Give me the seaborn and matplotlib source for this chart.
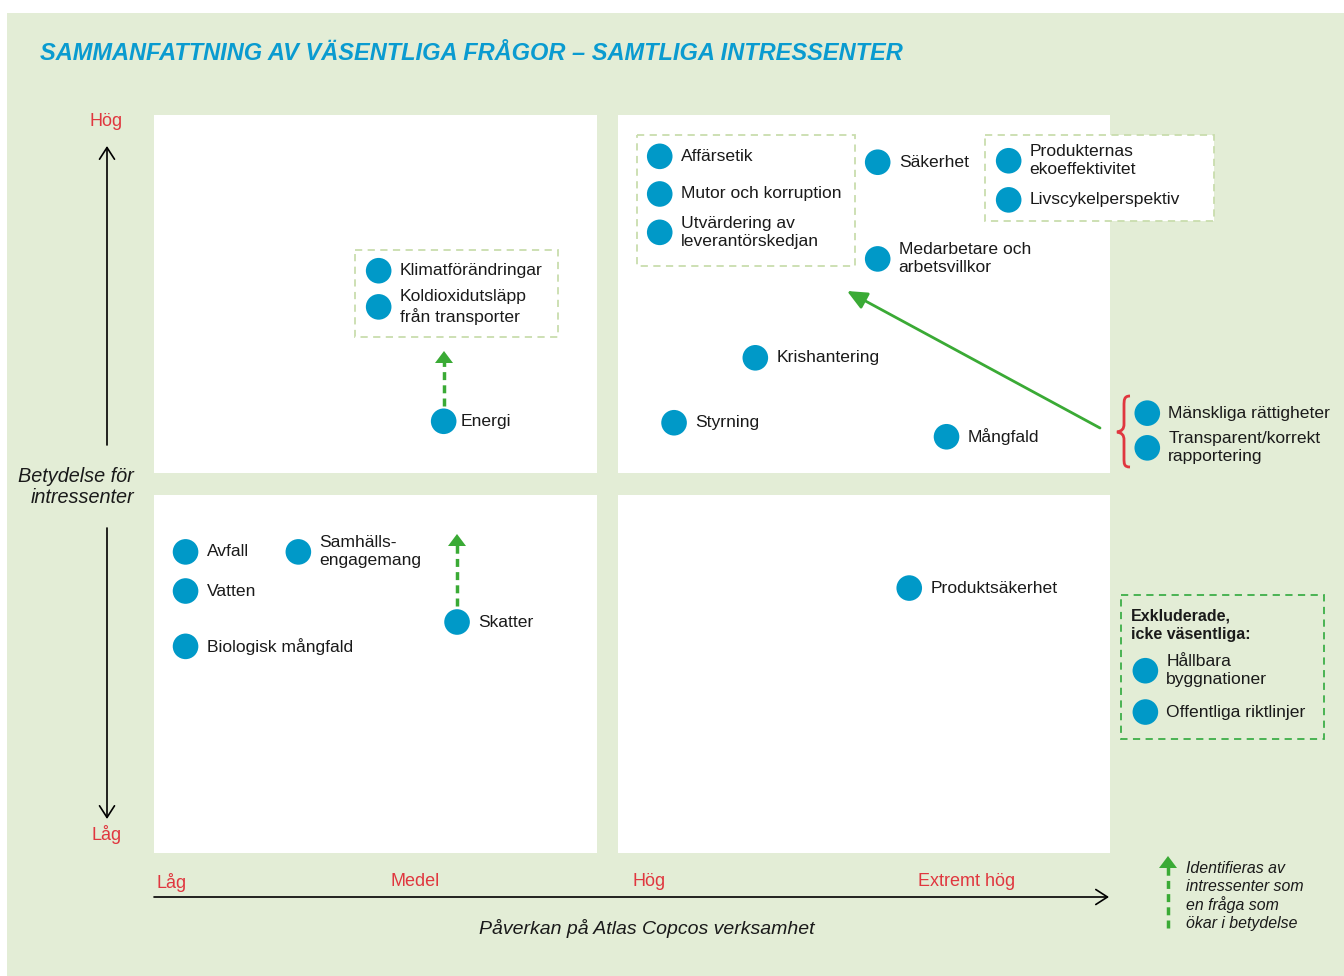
import matplotlib
matplotlib.use("Agg")
import matplotlib.pyplot as plt
import matplotlib.transforms as mtransforms
from matplotlib.patches import Rectangle, Polygon, PathPatch
from matplotlib.path import Path
import seaborn as sns
import pandas as pd

# ---------------- data ----------------
issues = [
    "Affärsetik", "Mutor och korruption", "Utvärdering av\nleverantörskedjan",
    "Säkerhet", "Produkternas\nekoeffektivitet", "Livscykelperspektiv",
    "Medarbetare och\narbetsvillkor", "Krishantering", "Styrning", "Mångfald",
    "Mänskliga rättigheter", "Transparent/korrekt\nrapportering",
    "Klimatförändringar", "Koldioxidutsläpp\nfrån transporter", "Energi",
    "Avfall", "Samhälls-\nengagemang", "Vatten", "Biologisk mångfald", "Skatter",
    "Produktsäkerhet", "Hållbara\nbyggnationer", "Offentliga riktlinjer",
]
impact = [52.9, 52.9, 52.9, 75.7, 89.4, 89.4, 75.7, 62.9, 54.4, 82.9,
          103.9, 103.9, 23.5, 23.5, 30.3, 3.3, 15.1, 3.3, 3.3, 31.7,
          79.0, 103.7, 103.7]
importance = [94.4, 89.3, 84.1, 93.6, 93.8, 88.5, 80.5, 67.1, 58.3, 56.4,
              59.6, 54.9, 78.9, 74.0, 58.5, 40.8, 40.8, 35.5, 28.0, 31.3,
              35.9, 24.7, 19.1]

x_levels = ["Låg", "Medel", "Hög", "Extremt hög"]
y_levels = ["Hög", "Låg"]

title = "SAMMANFATTNING AV VÄSENTLIGA FRÅGOR – SAMTLIGA INTRESSENTER"
xlabel = "Påverkan på Atlas Copcos verksamhet"
ylabel = "Betydelse för\nintressenter"
legend_text = "Identifieras av\nintressenter som\nen fråga som\nökar i betydelse"
excluded_title = "Exkluderade,\nicke väsentliga:"

df = pd.DataFrame({"issue": issues, "impact": impact, "importance": importance})

# ---------------- style ----------------
sns.set_theme(style="white")
plt.rcParams["font.family"] = ["Liberation Sans", "DejaVu Sans"]

BG = "#E3EDD6"
BLUE = "#0099C8"
TITLE_BLUE = "#0A9BD0"
RED = "#E0373F"
GREEN = "#3AAA35"
LIGHT_DASH = "#C9DDAE"
TXT = "#1a1a1a"

W, H = 1344, 976
fig = plt.figure(figsize=(W / 100, H / 100), dpi=100)
fig.patch.set_facecolor("white")

# pixel transform (origin top-left)
T = mtransforms.Affine2D().scale(1 / W, -1 / H).translate(0, 1) + fig.transFigure

# axes mapped so that score 0..100 spans the matrix area
x0, x1, y0, y1 = 154, 1110, 115, 853
ax = fig.add_axes([x0 / W, (H - y1) / H, (x1 - x0) / W, (y1 - y0) / H])
ax.set_xlim(0, 100)
ax.set_ylim(0, 100)
ax.axis("off")
ax.patch.set_visible(False)

def rect(x, y, w, h, **kw):
    r = Rectangle((x, y), w, h, transform=T, clip_on=False, **kw)
    ax.add_patch(r)
    return r

# background
rect(7, 13, W - 7, H - 13, facecolor=BG, edgecolor="none", zorder=-10)
# quadrant panels
for (px, py, pw, ph) in [(154, 115, 443, 358), (618, 115, 492, 358),
                         (154, 495, 443, 358), (618, 495, 492, 358)]:
    rect(px, py, pw, ph, facecolor="white", edgecolor="none", zorder=-9)

# dashed grouping boxes
rect(637, 135, 218, 131, facecolor="white", edgecolor=LIGHT_DASH, lw=1.3,
     linestyle=(0, (4, 3)), zorder=-8)
rect(985, 135, 229, 86, facecolor="white", edgecolor=LIGHT_DASH, lw=1.3,
     linestyle=(0, (4, 3)), zorder=-8)
rect(355, 250, 203, 87, facecolor="white", edgecolor=LIGHT_DASH, lw=1.3,
     linestyle=(0, (4, 3)), zorder=-8)
rect(1121, 595, 203, 144, facecolor="none", edgecolor="#3DAE49", lw=1.3,
     linestyle=(0, (4, 3)), zorder=-8)

# title
fig.text(40 / W, 1 - 54 / H, title, color=TITLE_BLUE, fontsize=17.0,
         fontweight="bold", fontstyle="italic", ha="left", va="center")

# axis level labels
fig.text(106 / W, 1 - 121 / H, y_levels[0], color=RED, fontsize=13,
         ha="center", va="center")
fig.text(107 / W, 1 - 834 / H, y_levels[1], color=RED, fontsize=13,
         ha="center", va="center")
for lab, px in zip(x_levels, [156, 391, 632, 918]):
    fig.text(px / W, 1 - 882 / H, lab, color=RED, fontsize=13,
             ha="left", va="center")

# axis titles
fig.text(134 / W, 1 - 487 / H, ylabel, color=TXT, fontsize=14.3,
         fontstyle="italic", ha="right", va="center", multialignment="right",
         linespacing=1.12)
fig.text(647 / W, 1 - 929 / H, xlabel, color=TXT, fontsize=14,
         fontstyle="italic", ha="center", va="center")

# black axis arrows
arr = dict(arrowstyle="->,head_length=0.7,head_width=0.45", lw=1.2, color="black",
           shrinkA=0, shrinkB=0)
ax.annotate("", xy=(107, 146), xytext=(107, 445), xycoords=T, textcoords=T,
            arrowprops=arr, annotation_clip=False)
ax.annotate("", xy=(107, 819), xytext=(107, 528), xycoords=T, textcoords=T,
            arrowprops=arr, annotation_clip=False)
ax.annotate("", xy=(1109, 897), xytext=(154, 897), xycoords=T, textcoords=T,
            arrowprops=arr, annotation_clip=False)

# green dashed "increasing importance" arrows
def dashed_up(x, ybot, ytip):
    ax.plot([x, x], [ybot, ytip + 10], transform=T, color=GREEN, lw=2.5,
            linestyle=(0, (2.3, 1.5)), clip_on=False, solid_capstyle="butt",
            dash_capstyle="butt")
    ax.add_patch(Polygon([(x, ytip), (x - 9, ytip + 12), (x + 9, ytip + 12)],
                         closed=True, transform=T, facecolor=GREEN,
                         edgecolor="none", clip_on=False))

dashed_up(444, 406, 351)
dashed_up(457, 606, 534)
dashed_up(1168, 928, 856)

# solid green arrow
ax.annotate("", xy=(847, 291), xytext=(1100, 428), xycoords=T, textcoords=T,
            arrowprops=dict(arrowstyle="-|>,head_length=1.0,head_width=0.45",
                            lw=2, color=GREEN, shrinkA=0, shrinkB=0),
            annotation_clip=False)

# red brace
verts = [(1130, 396), (1124, 396), (1124, 400), (1124, 406),
         (1124, 424),
         (1124, 429), (1122, 431), (1117, 432),
         (1122, 433), (1124, 435), (1124, 440),
         (1124, 458),
         (1124, 464), (1124, 467), (1130, 467)]
codes = [Path.MOVETO, Path.CURVE4, Path.CURVE4, Path.CURVE4,
         Path.LINETO,
         Path.CURVE4, Path.CURVE4, Path.CURVE4,
         Path.CURVE4, Path.CURVE4, Path.CURVE4,
         Path.LINETO,
         Path.CURVE4, Path.CURVE4, Path.CURVE4]
ax.add_patch(PathPatch(Path(verts, codes), transform=T, facecolor="none",
                       edgecolor=RED, lw=2, clip_on=False))

# legend text & excluded header
fig.text(1186 / W, 1 - 896 / H, legend_text, color=TXT, fontsize=11.4,
         fontstyle="italic", ha="left", va="center", linespacing=1.2)
fig.text(1131 / W, 1 - 625 / H, excluded_title, color=TXT, fontsize=11.5,
         fontweight="bold", ha="left", va="center", linespacing=1.3)

# ---------------- points ----------------
sns.scatterplot(data=df, x="impact", y="importance", s=340, color=BLUE,
                edgecolor="none", ax=ax, clip_on=False, legend=False, zorder=5)
ax.set_xlabel("")
ax.set_ylabel("")

for name, xv, yv in zip(df["issue"], df["impact"], df["importance"]):
    off = 17 if name == "Energi" else 21
    ax.annotate(name, (xv, yv), xytext=(off, 0), textcoords="offset pixels",
                ha="left", va="center", fontsize=12.6, color=TXT,
                linespacing=1.25, annotation_clip=False, zorder=6)

fig.savefig("out.png", dpi=100, facecolor="white")
